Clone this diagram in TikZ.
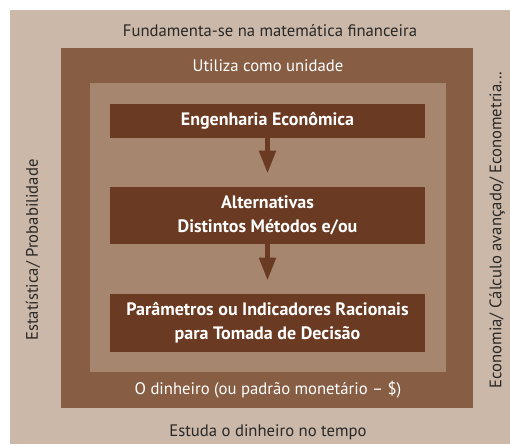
\documentclass[tikz,border=0pt]{standalone}
\usepackage{fontspec}
\setmainfont{PT Sans}
\usetikzlibrary{arrows.meta,positioning}
\definecolor{OuterTan}{RGB}{203,184,168}
\definecolor{MidBrown}{RGB}{135,93,68}
\definecolor{InnerTan}{RGB}{166,134,111}
\definecolor{BoxBrown}{RGB}{107,58,34}
\definecolor{TextGray}{RGB}{40,40,40}
\tikzset{
  stagebox/.style={fill=BoxBrown,minimum width=236pt,align=center,
    text=white,font=\fontsize{13.5}{18}\selectfont\bfseries,inner sep=0pt},
  flowarrow/.style={-{Triangle[length=17pt,width=12pt]},
    line width=3.6pt,draw=BoxBrown,shorten >=10pt},
  outerlabel/.style={text=TextGray,font=\fontsize{12.5}{14}\selectfont},
  bandlabel/.style={text=white,font=\fontsize{12.5}{14}\selectfont},
}

\begin{document}
\begin{tikzpicture}[x=0.75pt,y=-0.75pt]
  \useasboundingbox (0,0) rectangle (510,444);
  % nested frames
  \fill[OuterTan] (10,10) rectangle (510,444);
  \fill[MidBrown] (61,48) rectangle (473,408);
  \fill[InnerTan] (90,83) rectangle (446,372);
  % frame labels
  \node[outerlabel] (fund) at (270,31) {Fundamenta-se na matemática financeira};
  \node[outerlabel] (estuda) at (268,432) {Estuda o dinheiro no tempo};
  \node[outerlabel,rotate=90] (estat) at (33,250) {Estatística/ Probabilidade};
  \node[outerlabel,rotate=90] (econ) at (497,230) {Economia/ Cálculo avançado/ Econometria...};
  \node[bandlabel] (unid) at (268,66) {Utiliza como unidade};
  \node[bandlabel] (dinh) at (268,390) {O dinheiro (ou padrão monetário – \$)};
  % stages
  \node[stagebox,minimum height=25.5pt] (eng) at (267.5,121) {Engenharia Econômica};
  \node[stagebox,minimum height=42.75pt] (alt) at (267.5,215.5) {Alternativas\\Distintos Métodos e/ou};
  \node[stagebox,minimum height=43.5pt] (param) at (267.5,323) {Parâmetros ou Indicadores Racionais\\para Tomada de Decisão};
  \draw[flowarrow] (eng) -- (alt);
  \draw[flowarrow] (alt) -- (param);
\end{tikzpicture}
\end{document}
